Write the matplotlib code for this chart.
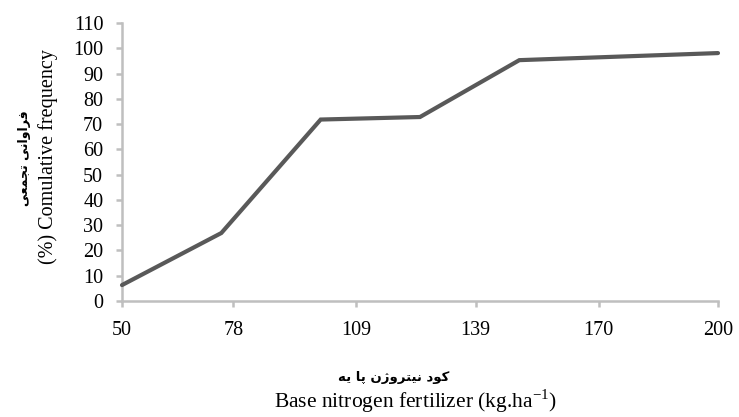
import matplotlib
matplotlib.use("Agg")
import matplotlib.pyplot as plt

# data
nitrogen = [50, 75, 100, 125, 150, 200]
cum_freq = [6.3, 26.9, 71.8, 72.8, 95.3, 98.1]
xtick_vals = [50, 78, 109, 139, 170, 200]
ytick_vals = list(range(0, 111, 10))

# persian labels, pre-shaped (presentation forms, visual order) since matplotlib does no shaping
fa_ylabel = "\uFBFD\uFECC\uFEE4\uFEA0\uFE97 \uFBFD\uFEE7\uFE8D\uFEED\uFE8D\uFEAE\uFED3"
fa_xlabel = "\uFEEA\uFBFE \uFE8E\uFB58 \uFEE5\uFB8A\uFEED\uFEAE\uFE98\uFBFF\uFEE7 \uFEA9\uFEEE\uFB90"

plt.rcParams['font.family'] = ['Liberation Serif', 'DejaVu Sans']
plt.rcParams['mathtext.fontset'] = 'custom'
plt.rcParams['mathtext.rm'] = 'Liberation Serif'

W, H = 739, 417
fig = plt.figure(figsize=(W / 100, H / 100), dpi=100)
ax = fig.add_axes([122 / W, 1 - 301 / H, (718 - 122) / W, (301 - 23) / H])

ax.plot(nitrogen, cum_freq, color='#595959', lw=3, solid_capstyle='round',
        solid_joinstyle='miter', clip_on=False, zorder=3)

ax.set_xlim(50, 200)
ax.set_ylim(0, 110)
ax.set_xticks(xtick_vals)
ax.set_yticks(ytick_vals)

for s in ['top', 'right']:
    ax.spines[s].set_visible(False)
for s in ['left', 'bottom']:
    ax.spines[s].set_color('#BFBFBF')
    ax.spines[s].set_linewidth(1.8)

ax.tick_params(axis='y', length=4.5, width=1.8, color='#BFBFBF', pad=9, labelsize=14.5)
ax.tick_params(axis='x', length=4.5, width=1.8, color='#BFBFBF', pad=10, labelsize=14.5)

# y label: two lines, persian + english
fig.text(25 / W, 1 - 158 / H, fa_ylabel, rotation=90, ha='center', va='center',
         family=['DejaVu Sans'], fontsize=9, fontweight='bold')
fig.text(48 / W, 1 - 157 / H, "(%) Comulative frequency", rotation=90,
         ha='center', va='center', fontsize=14.5)

# x label
fig.text(394 / W, 1 - 378 / H, fa_xlabel, ha='center', va='center',
         family=['DejaVu Sans'], fontsize=9.5, fontweight='bold')
fig.text(415 / W, 1 - 401 / H, "Base nitrogen fertilizer (kg.ha$^{\\mathregular{-1}}$)",
         ha='center', va='center', fontsize=15.5)

fig.savefig("out.png", dpi=100)
